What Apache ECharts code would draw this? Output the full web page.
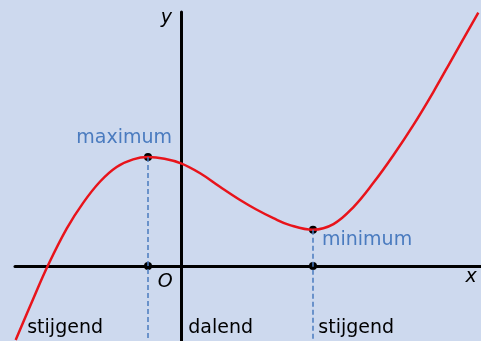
<!DOCTYPE html>
<html>
<head>
<meta charset="utf-8">
<script src="https://cdn.jsdelivr.net/npm/echarts@6/dist/echarts.min.js"></script>
<style>
  html, body { margin: 0; padding: 0; background: #cdd9ee; }
  #chart { width: 481px; height: 341px; }
</style>
</head>
<body>
<div id="chart"></div>
<script>
// curve (1 unit = 33px, origin at the axes crossing)
const curveX = [-5.01, -4.48, -4.04, -3.46, -2.96, -2.45, -1.95, -1.45, -1, -0.5, 0, 0.58, 1.18, 1.79, 2.27, 2.8, 3.3, 4, 4.62, 5.22, 5.83, 6.43, 7.04, 7.65, 8.25, 9.01]
const curveY = [-2.24, -1.0, 0, 1.14, 1.92, 2.56, 3.0, 3.23, 3.3, 3.25, 3.11, 2.81, 2.4, 2.0, 1.72, 1.45, 1.24, 1.1, 1.27, 1.78, 2.52, 3.35, 4.27, 5.28, 6.34, 7.68]

// maximum en minimum
const extremaX = [-1, 4]
const extremaY = [3.3, 1.1]
const extremaNames = ['maximum', 'minimum']

// teksten onderaan
const regionNames = ['stijgend', 'dalend', 'stijgend']
const regionX = [-4.66, 0.22, 4.16]
const regionY = -1.89

const xMin = -5.0303, xMax = 9.0909
const yMin = -2.2727, yMax = 7.697

const blue = '#4a7bbf'
const font = 'DejaVu Sans'

const chart = echarts.init(document.getElementById('chart'))

const hiddenAxis = {
    type: 'value',
    axisLine: { onZero: true, lineStyle: { color: '#000', width: 3 } },
    axisTick: { show: false },
    axisLabel: { show: false },
    splitLine: { show: false }
}

const option = {
    backgroundColor: '#cdd9ee',
    animation: false,
    grid: { left: 15, right: 0, top: 12, bottom: 0 },
    xAxis: Object.assign({}, hiddenAxis, { min: xMin, max: xMax }),
    yAxis: Object.assign({}, hiddenAxis, { min: yMin, max: yMax }),
    series: [
        {
            // stippellijnen naar beneden
            type: 'line',
            data: [],
            markLine: {
                silent: true,
                symbol: 'none',
                label: { show: false },
                lineStyle: { color: blue, width: 1.5, type: [5, 3], opacity: 1 },
                data: extremaX.map((x, i) => [
                    { coord: [x, extremaY[i]] },
                    { coord: [x, yMin] }
                ])
            }
        },
        {
            type: 'line',
            smooth: 0.4,
            symbol: 'none',
            lineStyle: { color: '#e8141b', width: 2.5 },
            data: curveX.map((x, i) => [x, curveY[i]])
        },
        {
            type: 'scatter',
            symbolSize: 8,
            itemStyle: { color: '#000', opacity: 1 },
            emphasis: { disabled: true },
            data: extremaX.map((x, i) => ({
                value: [x, extremaY[i]],
                label: {
                    show: true,
                    formatter: extremaNames[i],
                    position: 'inside',
                    align: i === 0 ? 'right' : 'left',
                    offset: i === 0 ? [24, -19] : [9, 10],
                    color: blue,
                    fontFamily: font,
                    fontSize: 19
                }
            })).concat(extremaX.map(x => [x, 0]))
        },
        {
            // teksten
            type: 'scatter',
            symbolSize: 0,
            silent: true,
            itemStyle: { opacity: 1 },
            label: {
                show: true,
                position: 'inside',
                align: 'left',
                verticalAlign: 'middle',
                color: '#000',
                fontFamily: font,
                fontSize: 19,
                formatter: p => p.data.text
            },
            data: regionNames.map((t, i) => ({ value: [regionX[i], regionY], text: t })).concat([
                { value: [-0.44, 7.51], text: 'y', label: { align: 'center', fontStyle: 'italic' } },
                { value: [8.79, -0.35], text: 'x', label: { align: 'center', fontStyle: 'italic' } },
                { value: [-0.48, -0.48], text: 'O', label: { align: 'center', fontStyle: 'italic' } }
            ])
        }
    ]
}
chart.setOption(option)
</script>
</body>
</html>
